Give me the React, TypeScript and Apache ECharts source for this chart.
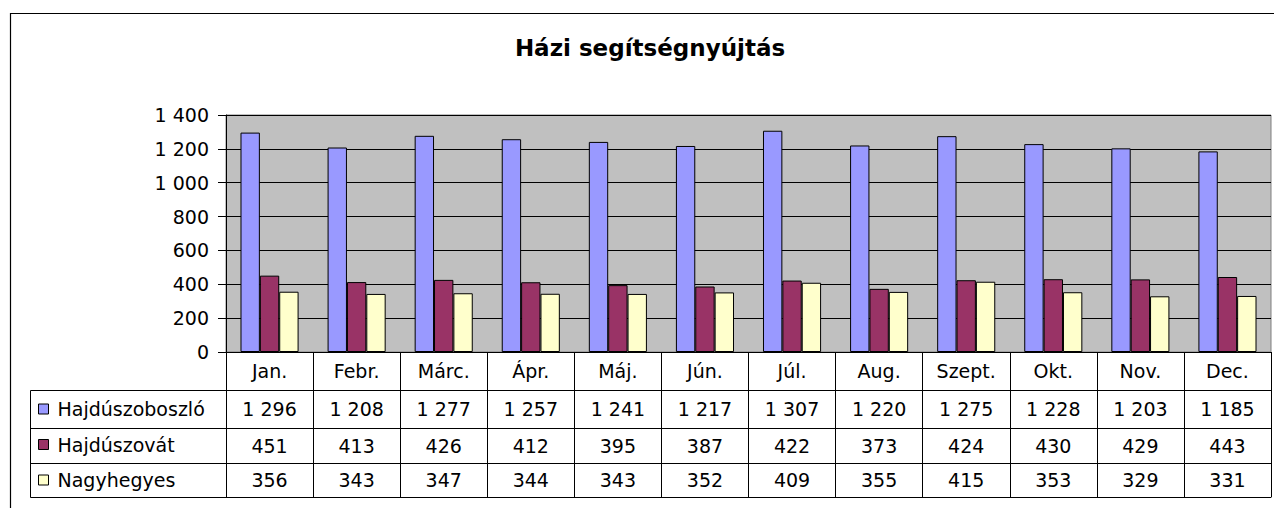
import React, { useEffect, useRef } from "react";
import * as echarts from "echarts";

const title = "Házi segítségnyújtás";
const months = ["Jan.", "Febr.", "Márc.", "Ápr.", "Máj.", "Jún.", "Júl.", "Aug.", "Szept.", "Okt.", "Nov.", "Dec."];
const seriesNames = ["Hajdúszoboszló", "Hajdúszovát", "Nagyhegyes"];
const hajduszoboszlo = [1296, 1208, 1277, 1257, 1241, 1217, 1307, 1220, 1275, 1228, 1203, 1185];
const hajduszovat = [451, 413, 426, 412, 395, 387, 422, 373, 424, 430, 429, 443];
const nagyhegyes = [356, 343, 347, 344, 343, 352, 409, 355, 415, 353, 329, 331];
const yMin = 0;
const yMax = 1400;
const yInterval = 200;

const seriesData = [hajduszoboszlo, hajduszovat, nagyhegyes];
const colors = ["#9999FF", "#993366", "#FFFFCC"];

const FONT = "DejaVu Sans";
const FS = 19;

const fmt = (v: number) => String(v).replace(/\B(?=(\d{3})+(?!\d))/g, " ");

export default function App() {
  const ref = useRef<HTMLDivElement>(null);
  useEffect(() => {
    if (!ref.current) return;
    const chart = echarts.init(ref.current, null, { renderer: "svg" });

    const gridTop = 115;
    const gridBottomY = 352;
    const headerH = 38;
    const rowH = [38, 35, 34];
    const rowTops: number[] = [];
    let acc = gridBottomY + headerH;
    for (let i = 0; i < rowH.length; i++) {
      rowTops.push(acc);
      acc += rowH[i];
    }
    const tableBottom = acc;

    const baseAxis = {
      type: "category" as const,
      gridIndex: 0,
      position: "bottom" as const,
      data: months,
      axisLine: { show: true, lineStyle: { color: "#000", width: 1 } },
      splitLine: { show: false },
    };

    const xAxes: any[] = [
      {
        ...baseAxis,
        axisTick: { show: true, length: headerH, interval: 0, lineStyle: { color: "#000" } },
        axisLabel: {
          interval: 0,
          margin: headerH / 2,
          verticalAlign: "middle",
          color: "#000",
          fontFamily: FONT,
          fontSize: FS,
        },
      },
    ];
    rowH.forEach((h, r) => {
      xAxes.push({
        ...baseAxis,
        offset: rowTops[r] - gridBottomY,
        axisTick: { show: true, length: h, interval: 0, lineStyle: { color: "#000" } },
        axisLabel: {
          interval: 0,
          margin: h / 2,
          verticalAlign: "middle",
          color: "#000",
          fontFamily: FONT,
          fontSize: FS,
          formatter: (_v: string, i: number) => fmt(seriesData[r][i]),
        },
      });
    });
    xAxes.push({
      ...baseAxis,
      offset: tableBottom - gridBottomY,
      axisTick: { show: false },
      axisLabel: { show: false },
    });

    const legendLeft = 30;
    const legendRight = 226;

    chart.setOption({
      animation: false,
      backgroundColor: "#fff",
      textStyle: { fontFamily: FONT },
      grid: {
        left: 226,
        right: 3,
        top: gridTop,
        bottom: 508 - gridBottomY,
        show: true,
        backgroundColor: "#C0C0C0",
        borderColor: "#808080",
        borderWidth: 1,
      },
      legend: {
        orient: "vertical",
        left: 38,
        top: rowTops[0] + rowH[0] / 2 - 10,
        padding: 0,
        itemWidth: 10,
        itemHeight: 10,
        itemGap: 15.5,
        icon: "rect",
        selectedMode: false,
        itemStyle: { borderColor: "#000", borderWidth: 1 },
        textStyle: { color: "#000", fontFamily: FONT, fontSize: FS, lineHeight: 20, padding: [0, 0, 0, 4] },
        data: seriesNames,
      },
      xAxis: xAxes,
      yAxis: {
        type: "value",
        min: yMin,
        max: yMax,
        interval: yInterval,
        axisLine: { show: true, lineStyle: { color: "#000" } },
        axisTick: { show: true, length: 8, lineStyle: { color: "#000" } },
        splitLine: { show: true, lineStyle: { color: "#000", width: 1 } },
        axisLabel: { color: "#000", fontFamily: FONT, fontSize: FS, margin: 17, formatter: (v: number) => fmt(v) },
      },
      series: seriesNames.map((name, i) => ({
        name,
        type: "bar",
        xAxisIndex: 0,
        data: seriesData[i],
        barGap: "0%",
        barCategoryGap: "33.3%",
        itemStyle: { color: colors[i], borderColor: "#000", borderWidth: 1 },
      })),
      graphic: [
        {
          type: "rect",
          shape: { x: 10.5, y: 13.5, width: 1400, height: 700 },
          style: { fill: "none", stroke: "#000", lineWidth: 1.2 },
          silent: true,
          z: 0,
        },
        {
          type: "text",
          x: 650,
          y: 48,
          style: {
            text: title,
            fill: "#000",
            font: `bold 23px "${FONT}"`,
            textAlign: "center",
            textVerticalAlign: "middle",
          },
        },
        {
          type: "rect",
          shape: { x: legendLeft + 0.5, y: rowTops[0] + 0.5, width: legendRight - legendLeft, height: tableBottom - rowTops[0] },
          style: { fill: "none", stroke: "#000", lineWidth: 1 },
          silent: true,
        },
        ...rowTops.slice(1).map((y) => ({
          type: "line",
          shape: { x1: legendLeft, y1: y + 0.5, x2: legendRight, y2: y + 0.5 },
          style: { stroke: "#000", lineWidth: 1 },
          silent: true,
        })),
      ],
    });
    return () => chart.dispose();
  }, []);
  return <div ref={ref} style={{ position: "fixed", left: 0, top: 0, width: 1274, height: 508 }} />;
}
